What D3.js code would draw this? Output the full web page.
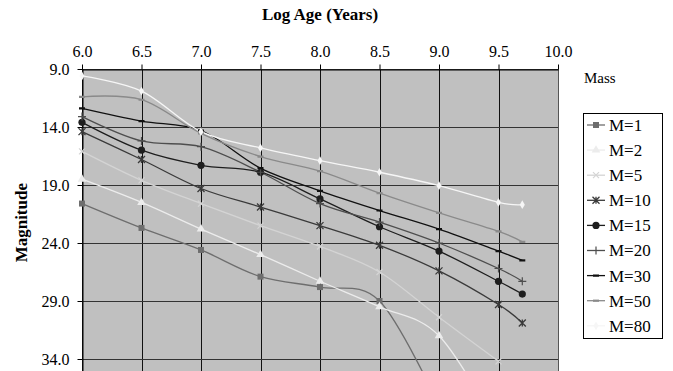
<!DOCTYPE html>
<html>
<head>
<meta charset="utf-8">
<script src="https://cdn.jsdelivr.net/npm/d3@7"></script>
<style>
  html, body { margin: 0; padding: 0; background: #fff; }
  svg { display: block; }
  svg text { font-family: "Liberation Serif", "Times New Roman", "DejaVu Serif", serif; }
</style>
</head>
<body>
<svg id="chart" width="673" height="371"></svg>
<script>
// Log age (years) of each column
const logAge = [6.0, 6.5, 7.0, 7.5, 8.0, 8.5, 9.0, 9.5, 9.7];
const xTicks = [6.0, 6.5, 7.0, 7.5, 8.0, 8.5, 9.0, 9.5, 10.0];
const yTicks = [9.0, 14.0, 19.0, 24.0, 29.0, 34.0];

// magnitudes per mass
const m1  = [20.6, 22.7, 24.6, 26.9, 27.8, 29.0, 38.0];
const m2  = [18.5, 20.5, 22.8, 25.0, 27.3, 29.5, 32.0, 40.0];
const m5  = [16.1, 18.6, 20.6, 22.5, 24.3, 26.5, 30.4, 34.2];
const m10 = [14.4, 16.8, 19.3, 20.9, 22.5, 24.2, 26.4, 29.3, 30.9];
const m15 = [13.6, 16.0, 17.3, 17.9, 20.2, 22.6, 24.7, 27.3, 28.4];
const m20 = [13.1, 15.2, 15.7, 17.9, 20.6, 22.2, 24.0, 26.2, 27.3];
const m30 = [12.4, 13.5, 14.3, 17.55, 19.5, 21.2, 22.8, 24.7, 25.5];
const m50 = [11.4, 11.65, 14.55, 16.55, 17.8, 19.7, 21.4, 23.0, 23.9];
const m80 = [9.6, 10.9, 14.4, 15.8, 16.9, 17.9, 19.06, 20.5, 20.7];

const names = ['M=1', 'M=2', 'M=5', 'M=10', 'M=15', 'M=20', 'M=30', 'M=50', 'M=80'];
const values = [m1, m2, m5, m10, m15, m20, m30, m50, m80];
const colors = ['#6e6e6e', '#ececec', '#d4d4d4', '#3a3a3a', '#1e1e1e', '#4e4e4e', '#111111', '#8a8a8a', '#f6f6f6'];
const shapes = ['square', 'triangle', 'cross', 'star', 'circle', 'plus', 'dash', 'dash', 'diamond'];

const series = names.map((n, i) => ({
  name: n, color: colors[i], shape: shapes[i],
  points: values[i].map((v, j) => ({ x: logAge[j], y: v }))
}));

const serif = '"Liberation Serif", "Times New Roman", "DejaVu Serif", serif';
const svg = d3.select('#chart');
const plotLeft = 82, plotRight = 558, plotTop = 69;

const x = d3.scaleLinear().domain([6, 10]).range([plotLeft, plotRight]);
const y = d3.scaleLinear().domain([9, 35.5]).range([plotTop, plotTop + 26.5 * 11.6]);
const plotBottom = y(35.5);

// plot background
svg.append('rect')
  .attr('x', plotLeft).attr('y', plotTop)
  .attr('width', plotRight - plotLeft).attr('height', plotBottom - plotTop)
  .attr('fill', '#c0c0c0');

svg.append('clipPath').attr('id', 'plotClip')
  .append('rect')
  .attr('x', plotLeft - 6).attr('y', plotTop - 6)
  .attr('width', plotRight - plotLeft + 12).attr('height', plotBottom - plotTop + 6);

// grid
const grid = svg.append('g').attr('stroke-width', 1).attr('shape-rendering', 'crispEdges');
grid.selectAll('line.v').data(xTicks).enter().append('line')
  .attr('x1', d => Math.round(x(d)) + 0.5).attr('x2', d => Math.round(x(d)) + 0.5)
  .attr('y1', plotTop).attr('y2', plotBottom)
  .attr('stroke', d => d === 10 ? '#555' : '#111');
grid.selectAll('line.h').data(yTicks).enter().append('line')
  .attr('x1', plotLeft).attr('x2', plotRight)
  .attr('y1', d => Math.round(y(d)) + 0.5).attr('y2', d => Math.round(y(d)) + 0.5)
  .attr('stroke', '#333');

// axes
const xAxis = svg.append('g').attr('transform', `translate(0,${plotTop + 0.5})`)
  .call(d3.axisTop(x).tickValues(xTicks).tickFormat(d3.format('.1f')).tickSize(5).tickSizeOuter(0).tickPadding(8));
const yAxis = svg.append('g').attr('transform', `translate(${plotLeft + 0.5},0)`)
  .call(d3.axisLeft(y).tickValues(yTicks).tickFormat(d3.format('.1f')).tickSize(5).tickSizeOuter(0).tickPadding(8));
[xAxis, yAxis].forEach(a => {
  a.attr('font-family', serif).attr('font-size', 16);
  a.select('.domain').attr('stroke', '#000');
  a.selectAll('.tick line').attr('stroke', '#000');
  a.selectAll('.tick text').attr('fill', '#000');
});
yAxis.selectAll('.tick text').attr('dy', '0.35em');

svg.append('text')
  .attr('x', (plotLeft + plotRight) / 2).attr('y', 20)
  .attr('text-anchor', 'middle')
  .attr('font-family', serif).attr('font-size', 17).attr('font-weight', 'bold')
  .text('Log Age (Years)');

svg.append('text')
  .attr('transform', `translate(27,${(plotTop + plotBottom) / 2}) rotate(-90)`)
  .attr('text-anchor', 'middle')
  .attr('font-family', serif).attr('font-size', 17).attr('font-weight', 'bold')
  .text('Magnitude');

// marker drawing
function drawMarker(g, shape, color) {
  if (shape === 'square') {
    g.append('rect').attr('x', -3).attr('y', -3).attr('width', 6).attr('height', 6).attr('fill', color);
  } else if (shape === 'triangle') {
    g.append('path').attr('d', d3.symbol(d3.symbolTriangle, 32)()).attr('fill', color);
  } else if (shape === 'circle') {
    g.append('circle').attr('r', 3.6).attr('fill', color);
  } else if (shape === 'diamond') {
    g.append('path').attr('d', d3.symbol(d3.symbolDiamond, 22)()).attr('fill', color);
  } else if (shape === 'cross') {
    g.append('path').attr('d', 'M-3,-3L3,3M-3,3L3,-3').attr('stroke', color).attr('stroke-width', 1.2).attr('fill', 'none');
  } else if (shape === 'star') {
    g.append('path').attr('d', 'M-3.5,-3.5L3.5,3.5M-3.5,3.5L3.5,-3.5M0,-3.5L0,3.5').attr('stroke', color).attr('stroke-width', 1.3).attr('fill', 'none');
  } else if (shape === 'plus') {
    g.append('path').attr('d', 'M-4,0L4,0M0,-4L0,4').attr('stroke', color).attr('stroke-width', 1.2).attr('fill', 'none');
  } else if (shape === 'dash') {
    g.append('path').attr('d', 'M-3,0L3,0').attr('stroke', color).attr('stroke-width', 2.2).attr('fill', 'none');
  }
}

const line = d3.line().x(d => x(d.x)).y(d => y(d.y)).curve(d3.curveCardinal.tension(0));

const plot = svg.append('g').attr('clip-path', 'url(#plotClip)');
series.forEach(s => {
  plot.append('path')
    .datum(s.points)
    .attr('fill', 'none')
    .attr('stroke', s.color)
    .attr('stroke-width', 1.3)
    .attr('d', line);
});
series.forEach(s => {
  s.points.filter(p => p.y <= 35.5).forEach(p => {
    const g = plot.append('g').attr('transform', `translate(${x(p.x)},${y(p.y)})`);
    drawMarker(g, s.shape, s.color);
  });
});

// legend
svg.append('text').attr('x', 584).attr('y', 83)
  .attr('font-family', serif).attr('font-size', 15).text('Mass');

svg.append('rect')
  .attr('x', 583.5).attr('y', 113.5).attr('width', 79).attr('height', 225)
  .attr('fill', '#fff').attr('stroke', '#000').attr('stroke-width', 1);

const legend = svg.append('g');
series.forEach((s, i) => {
  const ly = 125 + i * 25.1;
  const row = legend.append('g').attr('transform', `translate(0,${ly})`);
  row.append('line').attr('x1', 587).attr('x2', 605).attr('y1', 0).attr('y2', 0)
    .attr('stroke', s.color).attr('stroke-width', 1.3);
  drawMarker(row.append('g').attr('transform', 'translate(596,0)'), s.shape, s.color);
  row.append('text').attr('x', 609).attr('y', 0).attr('dy', '0.35em')
    .attr('font-family', serif).attr('font-size', 17).text(s.name);
});
</script>
</body>
</html>
